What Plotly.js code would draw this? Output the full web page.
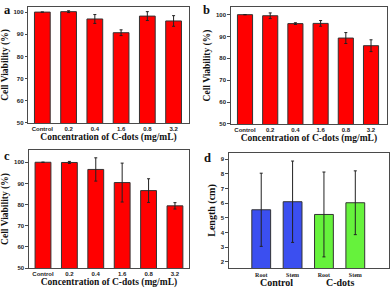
<!DOCTYPE html>
<html>
<head>
<meta charset="utf-8">
<script src="https://cdn.plot.ly/plotly-3.0.1.min.js"></script>
<style>html,body{margin:0;padding:0;background:#fff;}#chart{width:392px;height:292px;}</style>
</head>
<body>
<div id="chart"></div>
<script>
// ---- data ----
const concentrations = ['Control', '0.2', '0.4', '1.6', '0.8', '3.2'];
const viabilityA = [100, 100.2, 96.9, 90.7, 98.2, 96.0];
const errorA     = [0, 0.4, 2.0, 1.3, 2.0, 2.4];
const viabilityB = [100, 99.5, 95.9, 96.0, 89.3, 85.8];
const errorB     = [0, 1.3, 0.4, 1.3, 2.5, 2.7];
const viabilityC = [100, 99.9, 96.6, 90.4, 86.6, 79.4];
const errorC     = [0, 0.5, 5.5, 9.2, 5.6, 1.5];
const partsD  = ['Root', 'Stem', 'Root', 'Stem'];
const groupOfD = ['Control', 'Control', 'C-dots', 'C-dots'];
const groupsD = ['Control', 'C-dots'];
const lengthD = [5.55, 6.1, 5.23, 6.03];
const errorD  = [2.5, 2.78, 2.9, 2.18];
const panelLetters = ['a', 'b', 'c', 'd'];

// ---- styles ----
const RED = '#ff0000', BLUE = '#3b4ff0', GREEN = '#66f23c';
const serif = 'Liberation Serif, Times New Roman, serif';
const sans = 'Liberation Sans, Arial, sans-serif';
const frame = '#4a4a4a';

function barTrace(y, err, xa, ya, color, x) {
  return {
    type: 'bar', x: x, y: y, xaxis: xa, yaxis: ya, width: 0.6,
    marker: {color: color, line: {color: '#333', width: 1}},
    error_y: {type: 'data', array: err, visible: true, color: '#222', thickness: 1, width: 1.5},
    showlegend: false, hoverinfo: 'skip'
  };
}

const dIdx = partsD.map((_, i) => i);
const data = [
  barTrace(viabilityA, errorA, 'x', 'y', RED, concentrations),
  barTrace(viabilityB, errorB, 'x2', 'y2', RED, concentrations),
  barTrace(viabilityC, errorC, 'x3', 'y3', RED, concentrations),
  barTrace(lengthD, errorD, 'x4', 'y4', groupOfD.map(g => g === 'Control' ? BLUE : GREEN), dIdx)
];

function xAxis(domain, range, anchor, title, extra) {
  return Object.assign({
    type: 'category',
    domain: domain, range: range, anchor: anchor,
    showline: true, mirror: true, linecolor: frame, linewidth: 1.2,
    ticks: '', showgrid: false, zeroline: false, fixedrange: true,
    tickfont: {family: sans, size: 6, color: '#222', weight: 'bold'},
    title: {text: title, font: {family: serif, size: 9.5, color: '#111', weight: 'bold'}, standoff: 2}
  }, extra || {});
}
function yAxis(domain, range, anchor, title, dtick, tfs) {
  return {
    domain: domain, range: range, anchor: anchor, dtick: dtick,
    showline: true, mirror: true, linecolor: frame, linewidth: 1.2,
    ticks: 'outside', ticklen: 2.5, tickcolor: frame, tickwidth: 1,
    showgrid: false, zeroline: false, fixedrange: true,
    tickfont: {family: sans, size: 6, color: '#222', weight: 'bold'},
    title: {text: title, font: {family: serif, size: tfs, color: '#111', weight: 'bold'}, standoff: 3}
  };
}

const xTitle = 'Concentration of C-dots (mg/mL)';
const yTitle = 'Cell Viability (%)';

const groupCenters = groupsD.map(g => {
  const idx = dIdx.filter(i => groupOfD[i] === g);
  return idx.reduce((s, i) => s + i, 0) / idx.length;
});

const annotations = [
  {text: panelLetters[0], x: 0.005, y: 0.997},
  {text: panelLetters[1], x: 0.513, y: 0.995},
  {text: panelLetters[2], x: 0.005, y: 0.497},
  {text: panelLetters[3], x: 0.515, y: 0.49}
].map(a => Object.assign({
  xref: 'paper', yref: 'paper', xanchor: 'left', yanchor: 'top', showarrow: false,
  font: {family: serif, size: 12.5, color: '#111', weight: 'bold'}
}, a));

groupsD.forEach((g, k) => annotations.push({
  text: g, xref: 'x4', yref: 'paper', x: groupCenters[k], y: 0.031, yanchor: 'middle',
  showarrow: false, font: {family: serif, size: 10, color: '#111', weight: 'bold'}
}));

const layout = {
  width: 392, height: 292,
  margin: {l: 0, r: 0, t: 0, b: 0},
  paper_bgcolor: '#fff', plot_bgcolor: '#fff',
  xaxis:  xAxis([0.0725, 0.481], [-0.53, 5.57], 'y', xTitle),
  yaxis:  yAxis([0.579, 0.976], [50, 102.3], 'x', yTitle, 10, 9.5),
  xaxis2: xAxis([0.589, 0.987], [-0.56, 5.63], 'y2', xTitle),
  yaxis2: yAxis([0.5755, 0.976], [50, 103.5], 'x2', yTitle, 10, 9.5),
  xaxis3: xAxis([0.074, 0.482], [-0.53, 5.53], 'y3', xTitle),
  yaxis3: yAxis([0.0822, 0.4863], [50, 105.8], 'x3', yTitle, 10, 9.5),
  xaxis4: xAxis([0.584, 0.992], [-1.03, 4.07], 'y4', '', {
    type: 'linear', tickmode: 'array', tickvals: dIdx, ticktext: partsD,
    tickfont: {family: serif, size: 6, color: '#222', weight: 'bold'}
  }),
  yaxis4: yAxis([0.0812, 0.477], [1.55, 9.45], 'x4', 'Length (cm)', 1, 10),
  annotations: annotations
};

Plotly.newPlot('chart', data, layout, {staticPlot: true, displayModeBar: false});
</script>
</body>
</html>
